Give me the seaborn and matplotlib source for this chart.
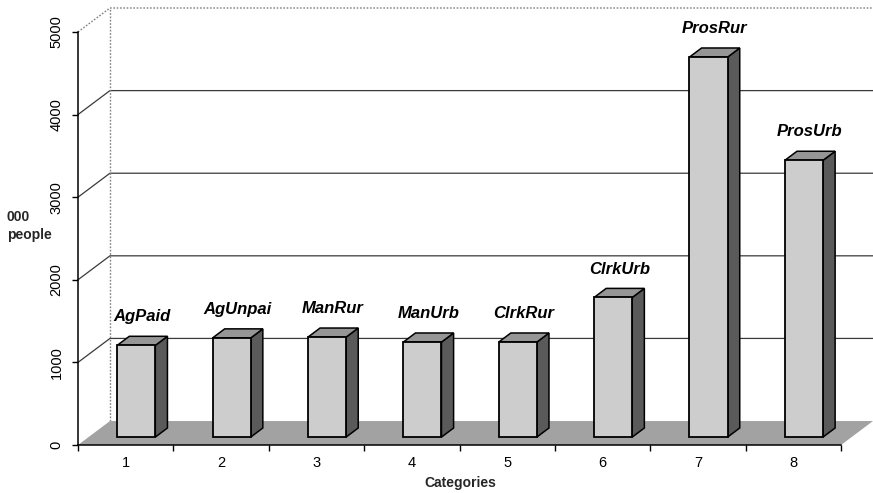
import matplotlib
matplotlib.use("Agg")
import matplotlib.pyplot as plt
from matplotlib.patches import Polygon
from matplotlib.ticker import FixedLocator
import seaborn as sns
import pandas as pd

# Employment by category (thousands of people)
categories = ["1", "2", "3", "4", "5", "6", "7", "8"]
names = ["AgPaid", "AgUnpai", "ManRur", "ManUrb", "ClrkRur", "ClrkUrb", "ProsRur", "ProsUrb"]
values = [1110, 1200, 1210, 1150, 1150, 1690, 4600, 3350]
y_ticks = [0, 1000, 2000, 3000, 4000, 5000]

sns.set_theme(style="white")
plt.rcParams["font.family"] = ["Liberation Sans", "DejaVu Sans"]

# oblique depth of the floor/walls, in data units (categories, people)
DX, DY = 0.335, 290.0
F0, BD = 0.33, 0.38          # bar start depth and bar depth as fractions of the floor depth
YMAX = 5000

fig = plt.figure(figsize=(8.73, 4.93), dpi=100)
ax = fig.add_axes([78 / 873, 48 / 493, 795 / 873, 437 / 493])

df = pd.DataFrame({"cat": categories, "val": values})
sns.barplot(data=df, x="cat", y="val", order=categories, width=0.4,
            color="#cdcdcd", saturation=1, edgecolor="black", linewidth=1.3,
            ax=ax, zorder=5)

ax.set_xlim(-0.5, 7.5 + DX)
ax.set_ylim(0, YMAX + DY)

# walls: left-wall diagonals and back-wall gridlines
xl, xb, xr = -0.5, -0.5 + DX, 7.5 + DX
for v in y_ticks[1:-1]:
    ax.plot([xl, xb, xr], [v, v + DY, v + DY], color="#3a3a3a", lw=0.9, zorder=1, clip_on=False)
ax.plot([xl, xb, xr], [YMAX, YMAX + DY, YMAX + DY], color="#808080", lw=1.0,
        ls=(0, (1.2, 1.2)), zorder=1, clip_on=False)
ax.plot([xb, xb], [DY, YMAX + DY], color="#808080", lw=1.0, ls=(0, (1.2, 1.2)), zorder=1)

# floor
floor = Polygon([(xl, 0), (7.5, 0), (xr, DY), (xb, DY)], closed=True,
                facecolor="#a2a2a2", edgecolor="none", zorder=3)
ax.add_patch(floor)

# extrude the bars into boxes and label them
for p, name in zip(list(ax.patches[:len(values)]), names):
    w, h = p.get_width(), p.get_height()
    x0 = p.get_x() + F0 * DX
    y0 = F0 * DY
    p.set_x(x0)
    p.set_y(y0)
    x1, y1 = x0 + w, y0 + h
    ox, oy = BD * DX, BD * DY
    side = Polygon([(x1, y0), (x1 + ox, y0 + oy), (x1 + ox, y1 + oy), (x1, y1)], closed=True,
                   facecolor="#5a5a5a", edgecolor="black", lw=1.1, zorder=4)
    top = Polygon([(x0, y1), (x1, y1), (x1 + ox, y1 + oy), (x0 + ox, y1 + oy)], closed=True,
                  facecolor="#969696", edgecolor="black", lw=1.1, zorder=4)
    ax.add_patch(side)
    ax.add_patch(top)
    ax.text(x0 + w / 2 + ox / 2, y1 + 290, name, ha="center", va="baseline",
            fontsize=12, fontweight="bold", fontstyle="italic", color="black", zorder=6)

# axes lines and ticks
for s in ["top", "right"]:
    ax.spines[s].set_visible(False)
ax.spines["left"].set_bounds(0, YMAX)
ax.spines["bottom"].set_bounds(-0.5, 7.5)
for s in ["left", "bottom"]:
    ax.spines[s].set_color("black")
    ax.spines[s].set_linewidth(1.1)
    ax.spines[s].set_zorder(6)

ax.set_yticks(y_ticks)
ax.set_yticklabels([str(t) for t in y_ticks], rotation=90, va="center")
ax.tick_params(axis="y", left=True, length=4.5, width=1, pad=6, labelsize=10.5, colors="black")

ax.set_xticks(range(len(categories)))
ax.set_xticklabels(categories)
ax.xaxis.set_minor_locator(FixedLocator([i - 0.5 for i in range(len(categories) + 1)]))
ax.tick_params(axis="x", which="major", bottom=True, length=0, pad=8, labelsize=10.5, colors="black")
ax.tick_params(axis="x", which="minor", bottom=True, length=4.5, width=1, color="black")

ax.set_xlabel("")
ax.set_ylabel("")
fig.text(460 / 873, 1 - 483 / 493, "Categories", ha="center", va="center",
         fontsize=10, fontweight="bold")
fig.text(7 / 873, 1 - 226 / 493, "000\npeople", ha="left", va="center",
         fontsize=10, fontweight="bold", linespacing=1.3)

fig.savefig("out.png", dpi=100)
